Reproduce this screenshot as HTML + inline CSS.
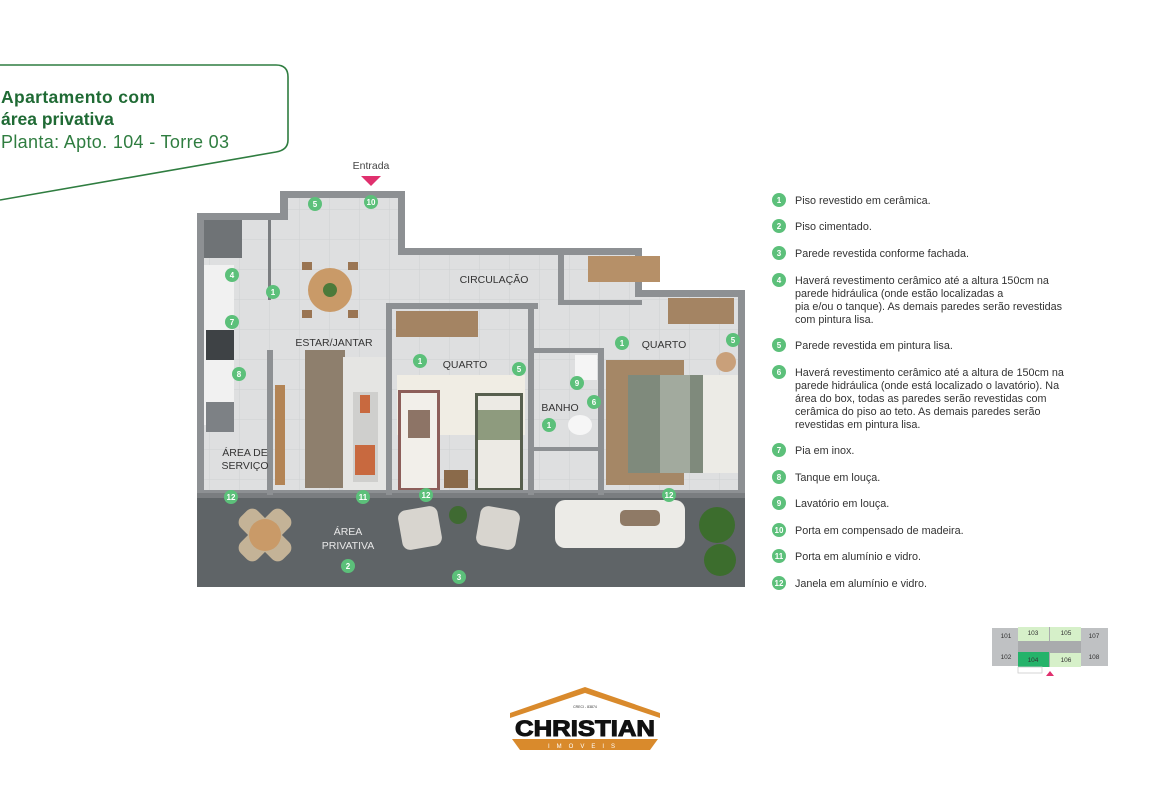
<!DOCTYPE html>
<html><head><meta charset="utf-8"><style>
html,body{margin:0;padding:0;background:#fff;width:1170px;height:785px;overflow:hidden}
svg{display:block}
text{font-family:"Liberation Sans",sans-serif}
</style></head><body>
<svg width="1170" height="785" viewBox="0 0 1170 785" xmlns="http://www.w3.org/2000/svg">
<defs>
<pattern id="tile" width="30" height="30" patternUnits="userSpaceOnUse">
<rect width="30" height="30" fill="#dedfe0"/><path d="M30 0V30H0" fill="none" stroke="#cfd0d2" stroke-width="1"/>
</pattern>
<g id="c"><circle r="7" fill="#5cc07a"/></g>
</defs>
<!-- title box -->
<path d="M0 65 H276 Q288 65 288 77 V140 Q288 150 276 152 L0 200" fill="none" stroke="#2f7d40" stroke-width="1.6"/>
<text x="1" y="103" font-size="17.5" font-weight="bold" fill="#1f6a34" textLength="154">Apartamento com</text>
<text x="1" y="125" font-size="17.5" font-weight="bold" fill="#1f6a34">área privativa</text>
<text x="1" y="148" font-size="18" fill="#2f7d40" textLength="228">Planta: Apto. 104 - Torre 03</text>

<!-- plan -->
<text x="371" y="169" font-size="10.5" fill="#444" text-anchor="middle">Entrada</text>
<path d="M361 176 H381 L371 186 Z" fill="#e0306e"/>
<path d="M197 213 H280 V191 H405 V248 H642 V290 H745 V497 H197 Z" fill="#8d9093"/>
<path d="M204 220 H288 V198 H398 V255 H635 V297 H738 V490 H204 Z" fill="url(#tile)"/>
<rect x="197" y="497" width="548" height="90" fill="#5f6467"/>
<rect x="197" y="493" width="548" height="5" fill="#7a7d80"/>
<rect x="268" y="220" width="3" height="80" fill="#7a7d80"/>
<rect x="267" y="350" width="6" height="145" fill="#8d9093"/>
<rect x="386" y="303" width="152" height="6" fill="#8d9093"/>
<rect x="386" y="303" width="6" height="192" fill="#8d9093"/>
<rect x="528" y="303" width="6" height="192" fill="#8d9093"/>
<rect x="534" y="348" width="70" height="5" fill="#8d9093"/>
<rect x="598" y="348" width="6" height="147" fill="#8d9093"/>
<rect x="534" y="447" width="70" height="4" fill="#8d9093"/>
<rect x="558" y="255" width="6" height="50" fill="#8d9093"/>
<rect x="558" y="300" width="84" height="5" fill="#8d9093"/>
<rect x="204" y="220" width="38" height="38" fill="#6f7376"/>
<rect x="204" y="265" width="30" height="160" fill="#f1f1f1"/>
<rect x="206" y="330" width="28" height="30" fill="#3e4245"/>
<rect x="206" y="402" width="28" height="30" fill="#7d8185"/>
<circle cx="330" cy="290" r="22" fill="#c99a68"/>
<circle cx="330" cy="290" r="7" fill="#4c7a3a"/>
<rect x="302" y="262" width="10" height="8" fill="#9a7553"/><rect x="348" y="262" width="10" height="8" fill="#9a7553"/>
<rect x="302" y="310" width="10" height="8" fill="#9a7553"/><rect x="348" y="310" width="10" height="8" fill="#9a7553"/>
<rect x="305" y="350" width="40" height="138" fill="#8e7f6d"/>
<rect x="343" y="357" width="43" height="133" fill="#e5e5e3"/>
<rect x="353" y="392" width="25" height="90" fill="#cfcfcd"/>
<rect x="360" y="395" width="10" height="18" fill="#c8693f"/>
<rect x="355" y="445" width="20" height="30" fill="#c8693f"/>
<rect x="275" y="385" width="10" height="100" fill="#b38455"/>
<rect x="396" y="311" width="82" height="26" fill="#a48463"/>
<rect x="397" y="375" width="128" height="60" fill="#f0ede4"/>
<rect x="398" y="390" width="42" height="100" fill="#8d5e5a"/>
<rect x="401" y="393" width="36" height="95" fill="#f2efea"/>
<rect x="408" y="410" width="22" height="28" fill="#8d7466"/>
<rect x="475" y="393" width="48" height="97" fill="#575f4e"/>
<rect x="478" y="396" width="42" height="92" fill="#eceae4"/>
<rect x="478" y="410" width="42" height="30" fill="#8e9b7e"/>
<rect x="444" y="470" width="24" height="18" fill="#8a6a4a"/>
<rect x="575" y="355" width="22" height="25" fill="#f5f5f5"/>
<ellipse cx="580" cy="425" rx="12" ry="10" fill="#f6f6f6"/>
<rect x="588" y="256" width="72" height="26" fill="#b69068"/>
<rect x="668" y="298" width="66" height="26" fill="#a48463"/>
<rect x="606" y="360" width="78" height="125" fill="#a58766"/>
<rect x="628" y="375" width="110" height="98" fill="#ecebe6"/>
<rect x="628" y="375" width="75" height="98" fill="#7f8a7c"/>
<rect x="660" y="375" width="30" height="98" fill="#a2aa9e"/>
<circle cx="726" cy="362" r="10" fill="#c9a07a"/>
<g transform="translate(265 535) rotate(45)"><rect x="-30" y="-12" width="60" height="24" rx="8" fill="#c4b397"/><rect x="-12" y="-30" width="24" height="60" rx="8" fill="#c4b397"/></g>
<circle cx="265" cy="535" r="16" fill="#c99a68"/>
<rect x="400" y="508" width="40" height="40" rx="8" fill="#d8d5cf" transform="rotate(-10 420 528)"/>
<rect x="478" y="508" width="40" height="40" rx="8" fill="#d8d5cf" transform="rotate(10 498 528)"/>
<circle cx="458" cy="515" r="9" fill="#3f6a32"/>
<rect x="555" y="500" width="130" height="48" rx="10" fill="#ecebe7"/>
<rect x="620" y="510" width="40" height="16" rx="5" fill="#8f7a66"/>
<circle cx="717" cy="525" r="18" fill="#3c6d2d"/><circle cx="720" cy="560" r="16" fill="#3c6d2d"/>
<g font-size="10.5" fill="#333">
<text x="494" y="283" text-anchor="middle">CIRCULAÇÃO</text>
<text x="334" y="346" text-anchor="middle">ESTAR/JANTAR</text>
<text x="465" y="368" text-anchor="middle">QUARTO</text>
<text x="664" y="348" text-anchor="middle">QUARTO</text>
<text x="560" y="411" text-anchor="middle">BANHO</text>
<text x="245" y="456" text-anchor="middle">ÁREA DE</text>
<text x="245" y="469" text-anchor="middle">SERVIÇO</text>
</g>
<g font-size="10.5" fill="#e8e8e8">
<text x="348" y="535" text-anchor="middle">ÁREA</text>
<text x="348" y="549" text-anchor="middle">PRIVATIVA</text>
</g>
<g font-size="8" font-weight="bold" fill="#fff" text-anchor="middle">
<g transform="translate(315 204)"><use href="#c"/><text y="3">5</text></g>
<g transform="translate(371 202)"><use href="#c"/><text y="3">10</text></g>
<g transform="translate(273 292)"><use href="#c"/><text y="3">1</text></g>
<g transform="translate(232 275)"><use href="#c"/><text y="3">4</text></g>
<g transform="translate(232 322)"><use href="#c"/><text y="3">7</text></g>
<g transform="translate(239 374)"><use href="#c"/><text y="3">8</text></g>
<g transform="translate(420 361)"><use href="#c"/><text y="3">1</text></g>
<g transform="translate(519 369)"><use href="#c"/><text y="3">5</text></g>
<g transform="translate(622 343)"><use href="#c"/><text y="3">1</text></g>
<g transform="translate(733 340)"><use href="#c"/><text y="3">5</text></g>
<g transform="translate(577 383)"><use href="#c"/><text y="3">9</text></g>
<g transform="translate(594 402)"><use href="#c"/><text y="3">6</text></g>
<g transform="translate(549 425)"><use href="#c"/><text y="3">1</text></g>
<g transform="translate(231 497)"><use href="#c"/><text y="3">12</text></g>
<g transform="translate(363 497)"><use href="#c"/><text y="3">11</text></g>
<g transform="translate(426 495)"><use href="#c"/><text y="3">12</text></g>
<g transform="translate(669 495)"><use href="#c"/><text y="3">12</text></g>
<g transform="translate(348 566)"><use href="#c"/><text y="3">2</text></g>
<g transform="translate(459 577)"><use href="#c"/><text y="3">3</text></g>
</g>

<g font-size="8" font-weight="bold" fill="#fff" text-anchor="middle">
<g transform="translate(779 200)"><use href="#c"/><text y="3">1</text></g>
<g transform="translate(779 226)"><use href="#c"/><text y="3">2</text></g>
<g transform="translate(779 253)"><use href="#c"/><text y="3">3</text></g>
<g transform="translate(779 280)"><use href="#c"/><text y="3">4</text></g>
<g transform="translate(779 345)"><use href="#c"/><text y="3">5</text></g>
<g transform="translate(779 372)"><use href="#c"/><text y="3">6</text></g>
<g transform="translate(779 450)"><use href="#c"/><text y="3">7</text></g>
<g transform="translate(779 477)"><use href="#c"/><text y="3">8</text></g>
<g transform="translate(779 503)"><use href="#c"/><text y="3">9</text></g>
<g transform="translate(779 530)"><use href="#c"/><text y="3">10</text></g>
<g transform="translate(779 556)"><use href="#c"/><text y="3">11</text></g>
<g transform="translate(779 583)"><use href="#c"/><text y="3">12</text></g>
</g>
<g font-size="10.8" fill="#333">
<text x="795" y="204">Piso revestido em cerâmica.</text>
<text x="795" y="230">Piso cimentado.</text>
<text x="795" y="257">Parede revestida conforme fachada.</text>
<text x="795" y="284">Haverá revestimento cerâmico até a altura 150cm na</text>
<text x="795" y="297">parede hidráulica (onde estão localizadas a</text>
<text x="795" y="310">pia e/ou o tanque). As demais paredes serão revestidas</text>
<text x="795" y="323">com pintura lisa.</text>
<text x="795" y="349">Parede revestida em pintura lisa.</text>
<text x="795" y="376">Haverá revestimento cerâmico até a altura de 150cm na</text>
<text x="795" y="389">parede hidráulica (onde está localizado o lavatório). Na</text>
<text x="795" y="402">área do box, todas as paredes serão revestidas com</text>
<text x="795" y="415">cerâmica do piso ao teto. As demais paredes serão</text>
<text x="795" y="428">revestidas em pintura lisa.</text>
<text x="795" y="454">Pia em inox.</text>
<text x="795" y="481">Tanque em louça.</text>
<text x="795" y="507">Lavatório em louça.</text>
<text x="795" y="534">Porta em compensado de madeira.</text>
<text x="795" y="560">Porta em alumínio e vidro.</text>
<text x="795" y="587">Janela em alumínio e vidro.</text>
</g>

<rect x="992" y="628" width="26" height="38" fill="#bfc1c3"/>
<rect x="1081" y="628" width="27" height="38" fill="#bfc1c3"/>
<rect x="1018" y="627" width="63" height="40" fill="#a9abad"/>
<rect x="1018" y="627" width="31" height="14" fill="#d6f0c9"/>
<rect x="1050" y="627" width="31" height="14" fill="#d6f0c9"/>
<rect x="1018" y="652" width="31" height="15" fill="#25b36a"/>
<rect x="1050" y="653" width="31" height="14" fill="#d6f0c9"/>
<rect x="1018" y="667" width="24" height="6" fill="none" stroke="#ccc" stroke-width="0.8"/>
<path d="M1046 676 L1050 671 L1054 676 Z" fill="#e0306e"/>
<g font-size="6.5" fill="#333" text-anchor="middle">
<text x="1006" y="638">101</text><text x="1033" y="635">103</text><text x="1066" y="635">105</text><text x="1094" y="638">107</text>
<text x="1006" y="659">102</text><text x="1033" y="662">104</text><text x="1066" y="662">106</text><text x="1094" y="659">108</text>
</g>

<path d="M510 713 L585 687 L660 713 L660 718 L585 693 L510 718 Z" fill="#d98a2c"/>
<text x="585" y="708" font-size="3.5" fill="#333" text-anchor="middle">CRECI - 83874</text>
<text x="515" y="736" font-size="22" font-weight="bold" fill="#111" stroke="#111" stroke-width="1" textLength="140" lengthAdjust="spacingAndGlyphs">CHRISTIAN</text>
<path d="M512 739 H658 L650 750 H520 Z" fill="#d98a2c"/>
<text x="585" y="748" font-size="6" fill="#fff" text-anchor="middle" letter-spacing="7">IMOVEIS</text>
</svg>
</body></html>
